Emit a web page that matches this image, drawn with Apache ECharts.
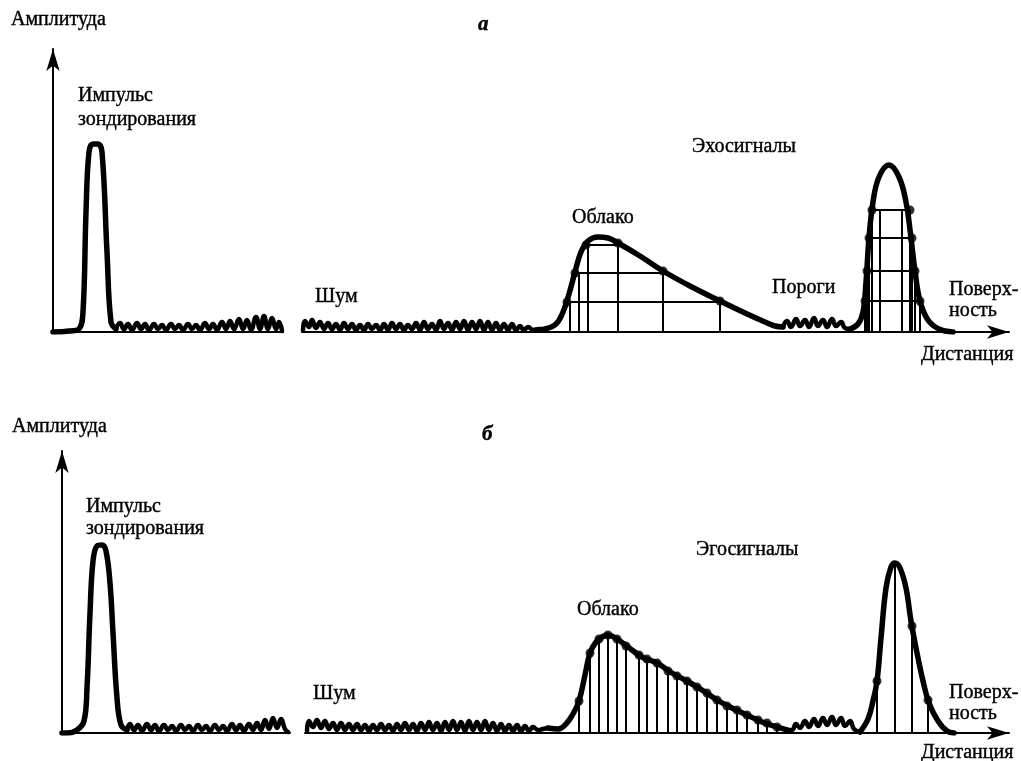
<!DOCTYPE html>
<html>
<head>
<meta charset="utf-8">
<script src="https://cdn.jsdelivr.net/npm/echarts@6/dist/echarts.min.js"></script>
<style>
html, body { margin: 0; padding: 0; background: #fff; }
#chart { width: 1021px; height: 761px; }
</style>
</head>
<body>
<div id="chart"></div>
<script>
// ---- данные: [дистанция, амплитуда] ----
// а) верхняя схема
var topPulse = [[0, 0], [17, 1], [26, 3], [30, 20], [33, 120], [36, 180], [40, 188], [45, 188], [49, 180], [54, 80], [58, 10], [63, 3]];
var topNoiseL = [[63, 3], [67, 9], [71, 3], [75, 8], [79, 2], [84, 9], [88, 3], [92, 8], [96, 2], [101, 8], [105, 3], [109, 7], [113, 2], [118, 8], [122, 3], [126, 7], [130, 2], [135, 8], [139, 3], [143, 7], [147, 2], [152, 9], [156, 3], [160, 8], [164, 2], [169, 10], [173, 3], [177, 11], [181, 3], [186, 13], [190, 3], [194, 12], [198, 2], [203, 15], [207, 3], [211, 16], [215, 3], [219, 14], [223, 3], [226, 10], [229, 1]];
var topNoiseR = [[250, 2], [252, 11], [256, 5], [259, 12], [263, 4], [267, 10], [271, 3], [275, 9], [279, 3], [283, 8], [287, 2], [291, 9], [295, 3], [299, 8], [303, 2], [307, 7], [311, 2], [315, 8], [319, 3], [323, 7], [327, 2], [331, 8], [335, 2], [339, 9], [343, 3], [347, 8], [351, 2], [355, 7], [359, 3], [363, 9], [367, 2], [371, 10], [375, 3], [379, 8], [383, 2], [387, 11], [391, 3], [395, 9], [399, 2], [403, 10], [407, 3], [411, 11], [415, 2], [419, 10], [423, 3], [427, 11], [431, 2], [435, 10], [439, 2], [443, 9], [447, 2], [451, 8], [455, 2], [459, 8], [463, 2], [467, 6], [471, 2], [475, 5], [480, 2], [486, 3], [492, 3]];
var topCloud = [[492, 3], [503, 8], [510, 20], [516, 38], [522, 60], [528, 80], [535, 91], [545, 95], [555, 94], [565, 89], [587, 76], [610, 61], [637, 46], [667, 31], [692, 19], [712, 10], [722, 6], [730, 5]];
var topNoiseP = [[730, 5], [734, 11], [738, 5], [743, 13], [747, 6], [752, 12], [756, 5], [761, 14], [765, 6], [770, 12], [774, 5], [779, 13], [783, 6], [788, 10], [792, 4], [797, 3]];
var topPeak = [[797, 3], [805, 8], [810, 20], [813, 50], [816, 94], [820, 130], [826, 155], [836, 167], [846, 155], [853, 130], [858, 94], [862, 61], [867, 31], [875, 12], [886, 3], [900, 0]];
// пороги: [x1, y1, x2, y2]
var topThresholds = [[514, 30, 667, 30], [522, 59, 610, 59], [533, 87, 565, 87], [812, 31, 867, 31], [814, 61, 862, 61], [816, 94, 859, 94], [819, 122, 857, 122]];
var topStems = [[517, 30], [526, 59], [535, 87], [565, 89], [610, 61], [667, 31], [812, 31], [814, 61], [816, 94], [819, 122], [827, 122], [849, 122], [857, 122], [859, 94], [862, 61], [867, 31]];
var topDots = [[514, 30], [522, 59], [533, 87], [565, 89], [610, 61], [667, 31], [819, 122], [816, 94], [814, 61], [812, 31], [857, 122], [859, 94], [862, 61], [867, 31]];

// б) нижняя схема
var botPulse = [[0, 0], [5, 0], [15, 3], [22, 12], [25, 45], [28, 120], [31, 172], [35, 187], [40, 188], [44, 182], [48, 150], [51, 100], [55, 35], [59, 8], [65, 3]];
var botNoiseL = [[65, 3], [68, 9], [72, 3], [76, 8], [80, 2], [85, 9], [89, 3], [93, 8], [97, 2], [102, 8], [106, 3], [110, 7], [114, 2], [119, 8], [123, 3], [127, 7], [131, 2], [136, 8], [140, 3], [144, 7], [148, 2], [153, 8], [157, 3], [161, 7], [165, 2], [170, 9], [174, 3], [178, 8], [182, 2], [187, 9], [191, 3], [195, 10], [199, 3], [203, 13], [207, 4], [211, 15], [215, 5], [219, 14], [223, 4], [226, 1]];
var botNoiseR = [[245, 2], [247, 12], [251, 6], [255, 13], [259, 5], [263, 12], [267, 4], [271, 10], [275, 3], [279, 10], [283, 3], [287, 9], [291, 3], [295, 9], [299, 3], [303, 8], [307, 2], [311, 8], [315, 3], [319, 9], [323, 3], [327, 8], [331, 2], [335, 9], [339, 3], [343, 10], [347, 3], [351, 9], [355, 2], [359, 10], [363, 3], [367, 11], [371, 3], [375, 10], [379, 2], [383, 11], [387, 3], [391, 12], [395, 3], [399, 11], [403, 2], [407, 12], [411, 3], [415, 11], [419, 3], [423, 12], [427, 3], [431, 10], [435, 2], [439, 9], [443, 2], [447, 8], [451, 2], [455, 8], [459, 2], [463, 7], [467, 2], [471, 6], [476, 3], [481, 4], [486, 5]];
var botCloud = [[486, 5], [496, 4], [504, 9], [511, 19], [517, 32], [523, 58], [528, 80], [534, 91], [540, 96], [546, 98], [555, 94], [566, 86], [580, 76], [595, 70], [610, 60], [625, 52], [640, 43], [655, 33], [670, 25], [685, 18], [700, 11], [712, 7], [725, 3]];
var botNoiseP = [[725, 3], [730, 3], [734, 9], [738, 5], [743, 12], [747, 6], [752, 14], [756, 7], [761, 15], [765, 8], [770, 16], [774, 8], [779, 15], [783, 7], [788, 12], [792, 4], [798, 1]];
var botPeak = [[798, 1], [806, 14], [811, 32], [815, 52], [819, 95], [824, 145], [829, 166], [833, 170], [838, 165], [844, 145], [849, 112], [855, 80], [861, 52], [867, 30], [876, 12], [885, 2], [892, 0]];
var botStems = [[517, 32], [528, 80], [537, 94], [546, 98], [555, 94], [564, 87], [577, 78], [585, 74], [595, 70], [606, 62], [615, 57], [625, 52], [635, 46], [645, 40], [655, 33], [665, 27], [675, 23], [685, 18], [696, 13], [705, 10], [715, 6], [815, 52], [833, 170], [850, 107], [866, 33]];
var botDots = [[517, 32], [528, 80], [537, 94], [546, 98], [555, 94], [564, 87], [577, 78], [585, 74], [595, 70], [606, 62], [615, 57], [625, 52], [635, 46], [645, 40], [655, 33], [665, 27], [675, 23], [685, 18], [696, 13], [705, 10], [715, 6], [815, 52], [850, 107], [866, 33]];

var SERIF = '"Liberation Serif", "DejaVu Serif", serif';

//кривая сигнала
var curve = function(data, axis, width, sm) {
	return {
		type: 'line',
		xAxisIndex: axis,
		yAxisIndex: axis,
		data: data,
		smooth: sm,
		showSymbol: false,
		silent: true,
		lineStyle: { color: '#000', width: width, join: 'round', cap: 'round' }
	};
};

//отрезки (пороги и вертикали)
var segments = function(data, axis) {
	return {
		type: 'custom',
		xAxisIndex: axis,
		yAxisIndex: axis,
		data: data,
		silent: true,
		encode: { x: [0, 2], y: [1, 3] },
		renderItem: function(params, api) {
			var p1 = api.coord([api.value(0), api.value(1)]);
			var p2 = api.coord([api.value(2), api.value(3)]);
			return {
				type: 'line',
				shape: { x1: p1[0], y1: p1[1], x2: p2[0], y2: p2[1] },
				style: { stroke: '#000', lineWidth: 2 }
			};
		}
	};
};

var stemsToSegments = function(stems) {
	var res = [];
	for(var i = 0; i < stems.length; i++) {
		res.push([stems[i][0], 0, stems[i][0], stems[i][1]]);
	}
	return res;
};

var dots = function(data, axis) {
	return {
		type: 'scatter',
		xAxisIndex: axis,
		yAxisIndex: axis,
		data: data,
		symbolSize: 9,
		silent: true,
		itemStyle: { color: '#000' }
	};
};

var xAx = function(grid, min, max, arrow) {
	return {
		type: 'value', gridIndex: grid, min: min, max: max,
		axisLine: {
			show: true, onZero: false,
			lineStyle: { color: '#000', width: 2 },
			symbol: arrow ? ['none', 'arrow'] : 'none',
			symbolSize: [10, 22]
		},
		axisTick: { show: false }, axisLabel: { show: false }, splitLine: { show: false }
	};
};

var yAx = function(grid, max, show) {
	return {
		type: 'value', gridIndex: grid, min: 0, max: max,
		axisLine: {
			show: show,
			lineStyle: { color: '#000', width: 2 },
			symbol: ['none', 'arrow'],
			symbolSize: [10, 22]
		},
		axisTick: { show: false }, axisLabel: { show: false }, splitLine: { show: false }
	};
};

var txt = function(text, x, y, italic) {
	return {
		type: 'text', x: x, y: y, silent: true,
		style: {
			text: text,
			fontFamily: SERIF,
			fontSize: italic ? 21 : 20,
			fontStyle: italic ? 'italic' : 'normal',
			fontWeight: italic ? 'bold' : 'normal',
			fill: '#000',
			stroke: '#000',
			lineWidth: 0.4,
			verticalAlign: 'middle'
		}
	};
};

var initChart = function() {
	var chart = echarts.init(document.getElementById('chart'));
	var option = {
		animation: false,
		backgroundColor: '#fff',
		grid: [
			{ left: 53, top: 49, width: 230, height: 283 },
			{ left: 302, top: 49, width: 707, height: 283 },
			{ left: 62, top: 451, width: 228, height: 282 },
			{ left: 305, top: 451, width: 704, height: 282 }
		],
		xAxis: [
			xAx(0, 0, 230, false),
			xAx(1, 249, 956, true),
			xAx(2, 0, 228, false),
			xAx(3, 243, 947, true)
		],
		yAxis: [
			yAx(0, 283, true),
			yAx(1, 283, false),
			yAx(2, 282, true),
			yAx(3, 282, false)
		],
		series: [
			curve(topPulse, 0, 5.5, 0.4),
			curve(topNoiseL, 0, 4.5, 0.5),
			curve(topNoiseR, 1, 4.5, 0.5),
			segments(topThresholds, 1),
			segments(stemsToSegments(topStems), 1),
			curve(topCloud, 1, 5.5, 0.4),
			curve(topNoiseP, 1, 4.5, 0.5),
			curve(topPeak, 1, 5.5, 0.4),
			dots(topDots, 1),

			curve(botPulse, 2, 5.5, 0.4),
			curve(botNoiseL, 2, 4.5, 0.5),
			curve(botNoiseR, 3, 4.5, 0.5),
			segments(stemsToSegments(botStems), 3),
			curve(botCloud, 3, 5.5, 0.4),
			curve(botNoiseP, 3, 4.5, 0.5),
			curve(botPeak, 3, 5.5, 0.4),
			dots(botDots, 3)
		],
		graphic: [
			txt('Амплитуда', 11, 20),
			txt('а', 478, 25, true),
			txt('Импульс', 78, 96),
			txt('зондирования', 78, 120),
			txt('Эхосигналы', 692, 147),
			txt('Облако', 572, 218),
			txt('Шум', 315, 297),
			txt('Пороги', 772, 288),
			txt('Поверх-', 949, 290),
			txt('ность', 949, 311),
			txt('Дистанция', 921, 355),

			txt('Амплитуда', 12, 427),
			txt('б', 482, 435, true),
			txt('Импульс', 86, 507),
			txt('зондирования', 86, 529),
			txt('Эгосигналы', 696, 550),
			txt('Облако', 577, 610),
			txt('Шум', 313, 694),
			txt('Поверх-', 949, 693),
			txt('ность', 949, 714),
			txt('Дистанция', 921, 753)
		]
	};
	chart.setOption(option);
};

initChart();
</script>
</body>
</html>
